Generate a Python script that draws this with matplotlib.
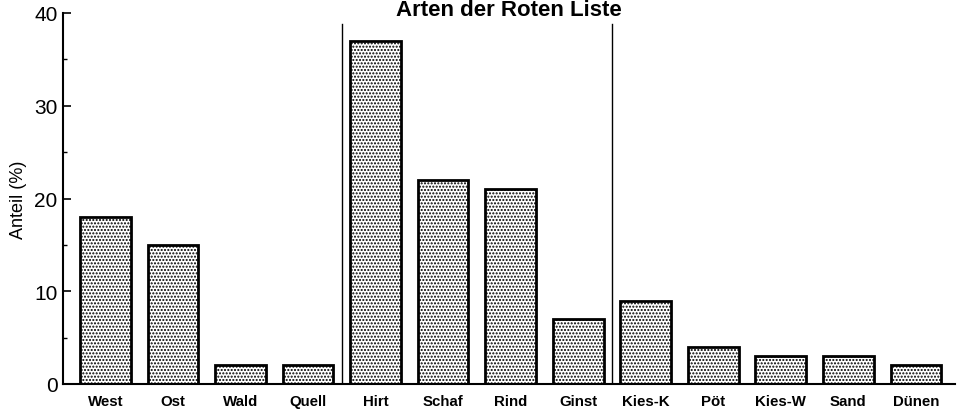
import matplotlib
matplotlib.use("Agg")
import matplotlib.pyplot as plt
from matplotlib.ticker import MultipleLocator

categories = ["West", "Ost", "Wald", "Quell", "Hirt", "Schaf", "Rind", "Ginst",
              "Kies-K", "Pöt", "Kies-W", "Sand", "Dünen"]
values = [18, 15, 2, 2, 37, 22, 21, 7, 9, 4, 3, 3, 2]
separators = [3.5, 7.5]
title = "Arten der Roten Liste"
ylabel = "Anteil (%)"

plt.rcParams['font.family'] = ['Liberation Sans', 'DejaVu Sans']
plt.rcParams['hatch.linewidth'] = 1.0
plt.rcParams['hatch.color'] = '#555555'

fig = plt.figure(figsize=(9.64, 4.10), dpi=100)
ax = fig.add_axes([63/964, 1 - 385/410, (955-63)/964, (385-14)/410])

x = list(range(len(categories)))
ax.bar(x, values, width=0.75, facecolor='white', edgecolor='black',
       linewidth=2, hatch='.....', zorder=2)

for s in separators:
    ax.axvline(s, ymin=0, ymax=0.97, color='black', linewidth=1, zorder=1)

ax.set_xlim(-0.63, 12.58)
ax.set_ylim(0, 40)
ax.yaxis.set_major_locator(MultipleLocator(10))
ax.yaxis.set_minor_locator(MultipleLocator(5))
ax.set_xticks(x)
ax.set_xticklabels(categories, fontsize=10.8, fontweight='bold')
ax.tick_params(axis='y', which='major', direction='in', length=6, width=1.2,
               labelsize=15, pad=4)
ax.tick_params(axis='y', which='minor', direction='in', length=3, width=1)
ax.tick_params(axis='x', direction='in', length=4, width=1, pad=7)

for side in ['top', 'right']:
    ax.spines[side].set_visible(False)
ax.spines['left'].set_linewidth(1.5)
ax.spines['bottom'].set_linewidth(1.5)

ax.set_ylabel(ylabel, fontsize=13)
ax.yaxis.set_label_coords(-0.04, 0.5)

fig.text(0.528, 1 - 16/410, title, ha='center', va='baseline',
         fontsize=16, fontweight='bold')

fig.savefig("out.png", dpi=100)
